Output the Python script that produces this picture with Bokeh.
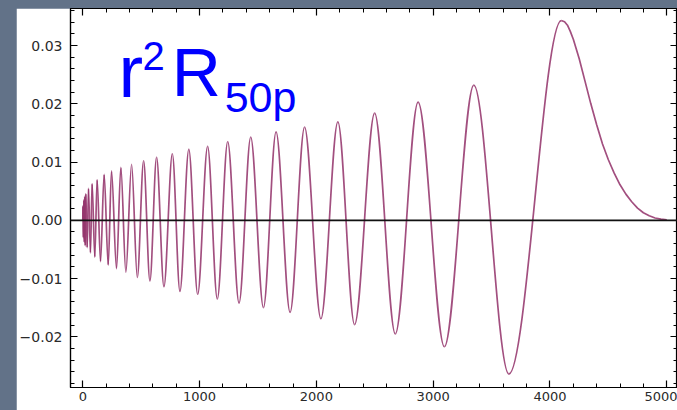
from bokeh.plotting import figure
from bokeh.models import Range1d, LinearAxis, FixedTicker, Span, Label
from bokeh.embed import file_html
from bokeh.resources import INLINE

# ---- data ----
# positive extrema (r, value)
peak_r = [2, 9, 17, 26, 49, 80, 123, 183, 246, 326, 418, 521, 632, 767, 908,
          1069, 1241, 1438, 1655, 1899, 2184, 2499, 2871, 3348, 4097]
peak_v = [0.0025, 0.0035, 0.0041, 0.0046, 0.0055, 0.0063, 0.0070, 0.0079, 0.0085,
          0.0091, 0.0096, 0.0102, 0.0108, 0.0114, 0.0122, 0.0127, 0.0135, 0.0143,
          0.0152, 0.0160, 0.0169, 0.0184, 0.0203, 0.0232, 0.0343]
# negative extrema (r, value)
trough_r = [5, 13, 21, 38, 66, 103, 152, 218, 289, 369, 467, 575, 695, 832, 984,
            1152, 1338, 1547, 1775, 2039, 2327, 2676, 3096, 3648]
trough_v = [-0.0030, -0.0038, -0.0044, -0.0047, -0.0056, -0.0063, -0.0071, -0.0077,
            -0.0083, -0.0089, -0.0098, -0.0104, -0.0114, -0.0122, -0.0127, -0.0135,
            -0.0142, -0.0150, -0.0158, -0.0169, -0.0179, -0.0195, -0.0217, -0.0264]
# decaying tail after the last maximum
tail_r = [4097, 4125, 4150, 4175, 4200, 4250, 4300, 4350, 4400, 4450, 4500, 4550,
          4600, 4650, 4700, 4750, 4800, 4850, 4900, 4950, 5000]
tail_v = [0.0343, 0.0341, 0.0335, 0.0324, 0.0311, 0.0278, 0.0239, 0.0200, 0.0164,
          0.0131, 0.0104, 0.0081, 0.0061, 0.0045, 0.0032, 0.0021, 0.0013, 0.0008,
          0.0004, 0.0002, 0.0001]

x_ticks = [0, 1000, 2000, 3000, 4000, 5000]
x_tick_labels = ["0", "1000", "2000", "3000", "4000", "5000"]
y_ticks = [-0.02, -0.01, 0.0, 0.01, 0.02, 0.03]
y_tick_labels = ["\u22120.02", "\u22120.01", "0.00", "0.01", "0.02", "0.03"]

# ---- figure ----
CURVE = "#95376d"
p = figure(width=661, height=402, output_backend="svg", toolbar_location=None,
           x_range=Range1d(-105, 5092), y_range=Range1d(-0.0287, 0.03637),
           min_border_left=53, min_border_right=0, min_border_top=0,
           min_border_bottom=23, x_axis_type=None, y_axis_type=None)
p.margin = (8, 0, 0, 16)
p.border_fill_color = "white"
p.background_fill_color = "white"
p.outline_line_color = "black"
p.outline_line_width = 1.2
p.xgrid.visible = False
p.ygrid.visible = False

xminor = [v for v in range(0, 5001, 200)]
yminor = [round(-0.028 + 0.002 * i, 3) for i in range(33)]

def style_axis(ax, labels):
    ax.axis_line_color = "black"
    ax.axis_line_width = 1.2
    ax.major_tick_in = 7
    ax.major_tick_out = 0
    ax.minor_tick_in = 4
    ax.minor_tick_out = 0
    ax.major_tick_line_color = "black"
    ax.minor_tick_line_color = "black"
    ax.major_tick_line_width = 1.2
    ax.minor_tick_line_width = 1
    if labels:
        ax.major_label_text_font = "DejaVu Sans"
        ax.major_label_text_color = "#2a2a2a"
    else:
        ax.major_label_text_font_size = "1px"
        ax.major_label_text_color = None
        ax.major_label_standoff = 0

xb = LinearAxis(ticker=FixedTicker(ticks=x_ticks, minor_ticks=xminor))
style_axis(xb, True)
xb.major_label_text_font_size = "13px"
xb.major_label_standoff = 4
xb.major_label_overrides = {t: l for t, l in zip(x_ticks, x_tick_labels)}
p.add_layout(xb, "below")

yl = LinearAxis(ticker=FixedTicker(ticks=y_ticks, minor_ticks=yminor))
style_axis(yl, True)
yl.major_label_text_font_size = "14px"
yl.major_label_standoff = 8
yl.major_label_overrides = {t: l for t, l in zip(y_ticks, y_tick_labels)}
p.add_layout(yl, "left")

xt = LinearAxis(ticker=FixedTicker(ticks=x_ticks, minor_ticks=xminor))
style_axis(xt, False)
p.add_layout(xt, "above")
yr = LinearAxis(ticker=FixedTicker(ticks=y_ticks, minor_ticks=yminor))
style_axis(yr, False)
p.add_layout(yr, "right")

# zero axis line
p.add_layout(Span(location=0, dimension="width", line_color="#111111", line_width=1.6))

# ---- curve: smooth half-waves between successive extrema ----
ext = sorted(list(zip(peak_r, peak_v)) + list(zip(trough_r, trough_v)))
seq_r = [0.0] + [e[0] for e in ext]
seq_v = [0.0] + [e[1] for e in ext]
x0, y0 = seq_r[:-1], seq_v[:-1]
x1, y1 = seq_r[1:], seq_v[1:]
cx0 = [a + (b - a) / 3.0 for a, b in zip(x0, x1)]
cx1 = [b - (b - a) / 3.0 for a, b in zip(x0, x1)]
p.bezier(x0=x0, y0=y0, x1=x1, y1=y1, cx0=cx0, cy0=y0, cx1=cx1, cy1=y1,
         line_color=CURVE, line_width=1.7, line_alpha=0.88)
p.line(tail_r, tail_v, line_color=CURVE, line_width=1.7, line_alpha=0.88)

# ---- title r^2 R_50p ----
BLUE = "#0000ff"
for txt, x, y, size in [("r", 306, 0.02560, "74px"), ("2", 512, 0.02828, "40px"),
                        ("R", 761, 0.02547, "68px"), ("50p", 1215, 0.02125, "43px")]:
    p.add_layout(Label(x=x, y=y, text=txt, text_color=BLUE, text_font="Liberation Sans",
                       text_font_size=size, text_baseline="alphabetic", text_align="left"))

html = file_html(p, INLINE)
html = html.replace("<head>", "<head><style>html,body{background:#627288;margin:0;padding:0;}</style>", 1)
open("out.html", "w").write(html)
